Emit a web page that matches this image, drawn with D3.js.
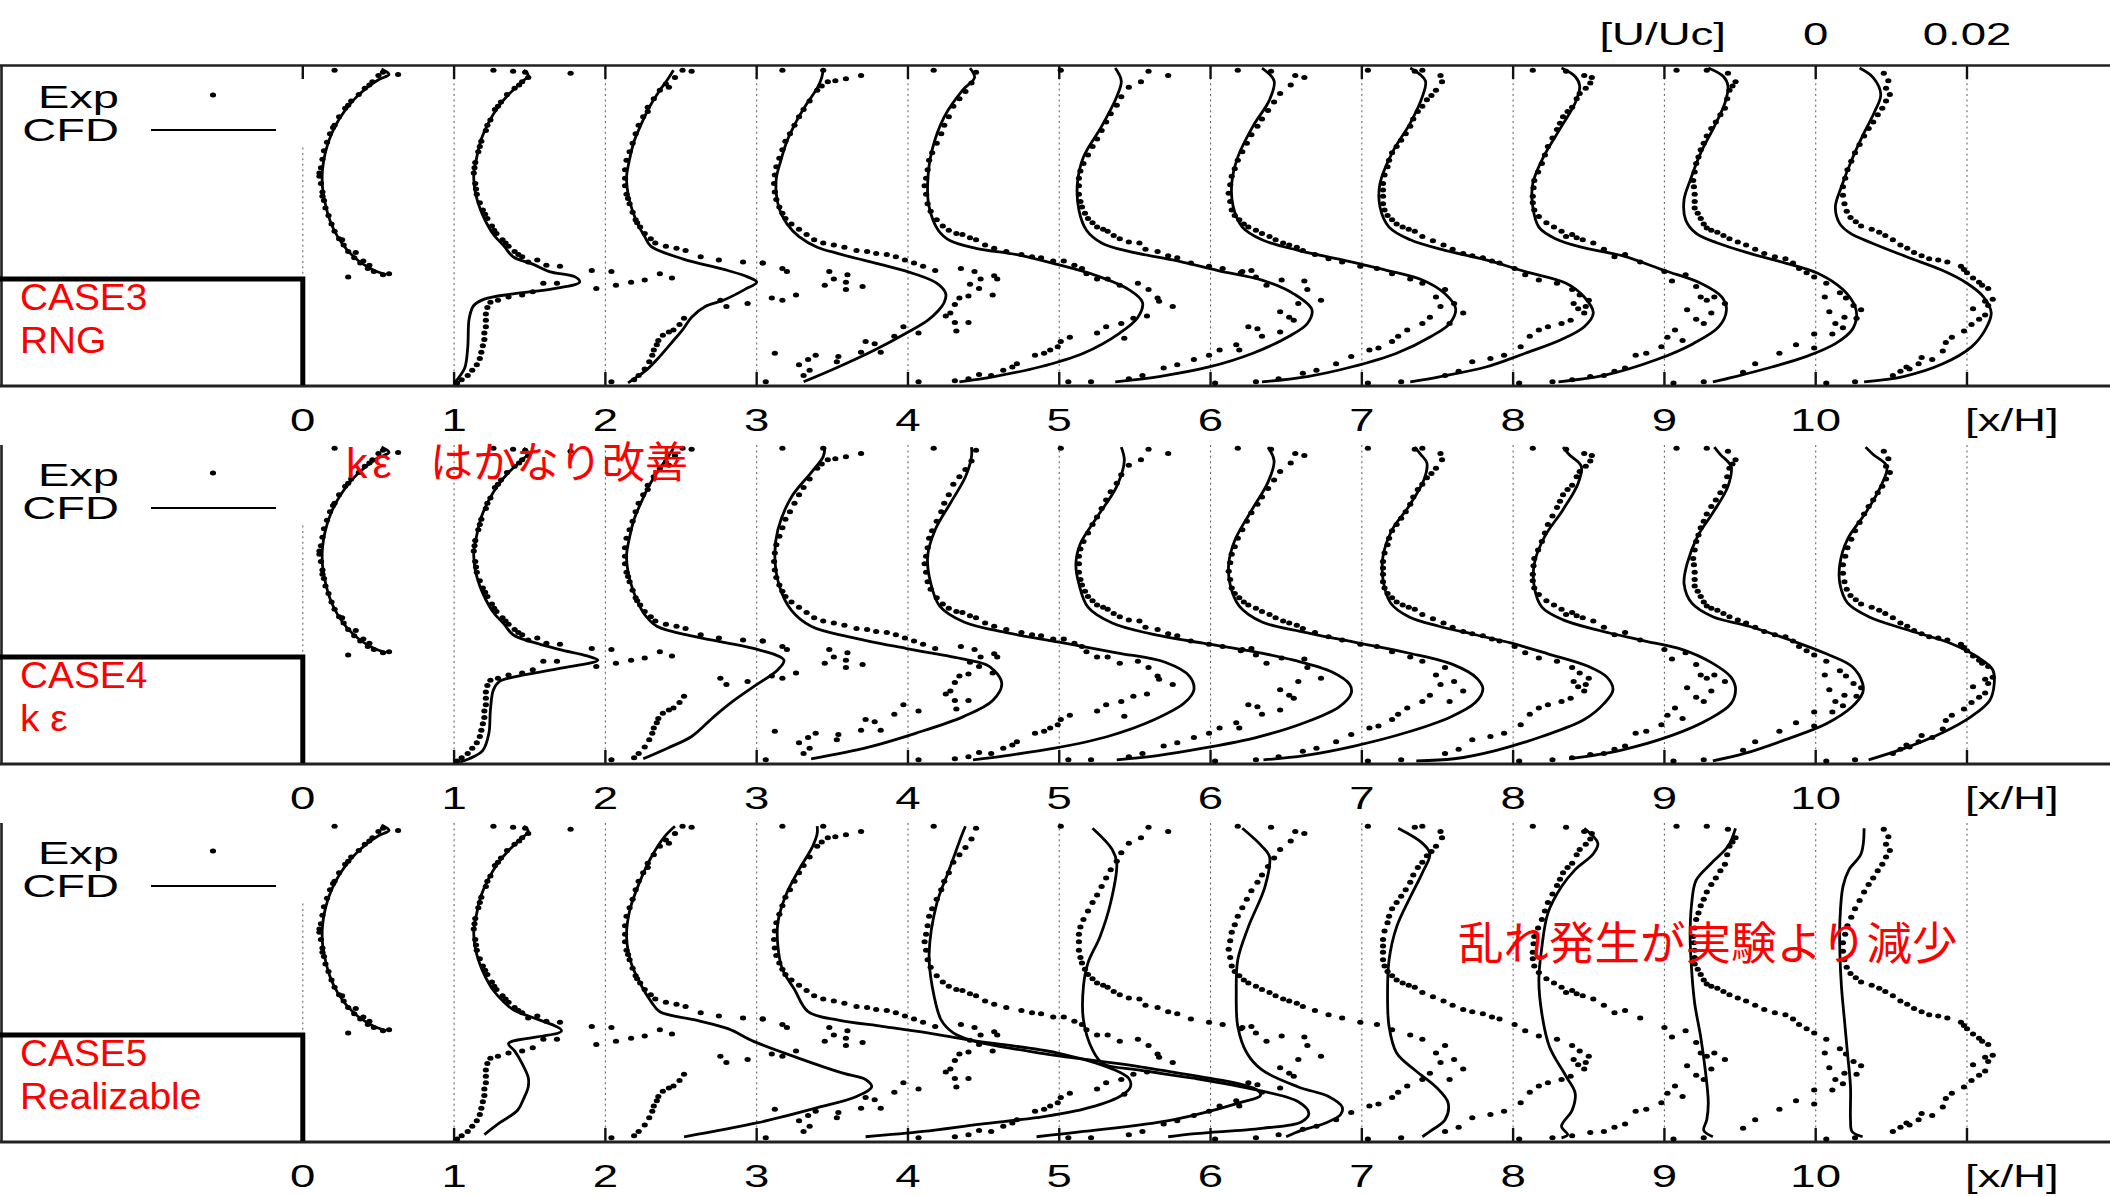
<!DOCTYPE html>
<html>
<head>
<meta charset="utf-8">
<script src="https://cdn.jsdelivr.net/npm/d3@7"></script>
<style>
  html, body { margin: 0; padding: 0; background: #fff; }
  svg { display: block; }
</style>
</head>
<body>
<svg id="chart" width="2110" height="1196"></svg>
<script>
// ---------------------------------------------------------------
// Velocity profiles U/Uc behind a block, measured (Exp) and
// computed (CFD) at stations x/H = 0 ... 10, three turbulence models.
// Each profile point: [U/Uc, z/H]. 0.02 of U/Uc spans one station.
// ---------------------------------------------------------------

const stations = [0, 1, 2, 3, 4, 5, 6, 7, 8, 9, 10];
const gridStations = [0, 1, 2, 3, 4, 5, 6, 7, 8, 9, 10, 11];
const xTickLabels = ["0", "1", "2", "3", "4", "5", "6", "7", "8", "9", "10"];
const scaleLabels = ["0", "0.02"];
const caseNames = ["CASE3", "CASE4", "CASE5"];
const modelNames = ["RNG", "k ε", "Realizable"];
const noteKE = ["kε", "はかなり改善"];
const noteRealizable = "乱れ発生が実験より減少";

// Measured profiles (same experiment shown in every case)
const expProfiles = [
  // x/H = 0
  [[.0042,2.97],[.0126,2.93],[.0106,2.95],[.0100,2.92],[.0092,2.86],[.0088,2.83],[.0082,2.80],[.0074,2.74],[.0064,2.68],[.0060,2.64],[.0056,2.61],[.0048,2.53],[.0042,2.45],[.0040,2.43],[.0036,2.37],[.0032,2.29],[.0028,2.21],[.0026,2.13],[.0024,2.05],[.0022,2.00],[.0022,1.97],[.0024,1.90],[.0026,1.82],[.0026,1.78],[.0028,1.74],[.0030,1.67],[.0034,1.60],[.0038,1.52],[.0042,1.45],[.0048,1.38],[.0052,1.37],[.0054,1.32],[.0060,1.26],[.0070,1.25],[.0068,1.20],[.0080,1.17],[.0076,1.15],[.0088,1.13],[.0086,1.10],[.0094,1.07],[.0106,1.04],[.0114,1.05],[.0060,1.02]],
  // x/H = 1
  [[.0052,2.97],[.0078,2.96],[.0094,2.95],[.0154,2.94],[.0098,2.90],[.0090,2.86],[.0086,2.83],[.0080,2.80],[.0070,2.74],[.0062,2.67],[.0058,2.63],[.0054,2.60],[.0048,2.50],[.0044,2.45],[.0042,2.40],[.0036,2.30],[.0034,2.25],[.0032,2.20],[.0028,2.10],[.0027,2.05],[.0026,2.00],[.0028,1.90],[.0029,1.85],[.0030,1.80],[.0034,1.72],[.0038,1.65],[.0041,1.61],[.0044,1.57],[.0050,1.50],[.0053,1.46],[.0056,1.43],[.0064,1.37],[.0068,1.34],[.0072,1.31],[.0080,1.26],[.0085,1.23],[.0090,1.21],[.0098,1.16],[.0110,1.18],[.0122,1.13],[.0140,1.12],[.0182,1.08],
   [.0188,.91],[.0136,.96],[.0118,.96],[.0104,.88],[.0090,.85],[.0072,.83],[.0058,.80],[.0048,.78],[.0044,.73],[.0042,.67],[.0042,.61],[.0042,.55],[.0040,.49],[.0040,.43],[.0038,.37],[.0036,.31],[.0034,.25],[.0030,.19],[.0024,.14],[.0018,.09],[.0010,.05],[.0004,.02]],
  // x/H = 2
  [[.0102,2.97],[.0114,2.96],[.0092,2.90],[.0084,2.81],[.0080,2.84],[.0072,2.78],[.0064,2.70],[.0056,2.62],[.0056,2.58],[.0050,2.53],[.0044,2.45],[.0040,2.37],[.0036,2.28],[.0032,2.20],[.0028,2.12],[.0026,2.03],[.0026,1.95],[.0026,1.88],[.0028,1.80],[.0030,1.76],[.0032,1.71],[.0036,1.63],[.0040,1.56],[.0042,1.53],[.0046,1.49],[.0052,1.43],[.0060,1.38],[.0066,1.34],[.0080,1.31],[.0094,1.29],[.0106,1.27],[.0126,1.21],[.0150,1.18],[.0182,1.16],[.0208,1.15],
   [.0008,1.07],[.0014,.94],[.0034,.97],[.0052,.99],[.0072,1.05],[.0088,1.01],[.0152,.80],[.0160,.74],[.0188,.77],
   [.0008,.03],[.0038,.05],[.0044,.09],[.0052,.15],[.0058,.22],[.0062,.28],[.0064,.33],[.0068,.38],[.0070,.42],[.0076,.47],[.0084,.50],[.0090,.52],[.0098,.57],[.0104,.63]],
  // x/H = 3
  [[.0034,2.97],[.0088,2.97],[.0094,2.86],[.0104,2.87],[.0118,2.89],[.0138,2.92],[.0086,2.82],[.0080,2.78],[.0070,2.68],[.0062,2.60],[.0056,2.53],[.0050,2.45],[.0044,2.37],[.0038,2.30],[.0034,2.22],[.0030,2.14],[.0026,2.06],[.0024,1.98],[.0023,1.90],[.0024,1.82],[.0026,1.75],[.0030,1.68],[.0034,1.62],[.0038,1.57],[.0046,1.52],[.0056,1.47],[.0066,1.42],[.0076,1.37],[.0088,1.34],[.0102,1.32],[.0116,1.30],[.0132,1.27],[.0146,1.26],[.0158,1.24],[.0172,1.23],[.0184,1.21],[.0196,1.18],[.0208,1.15],[.0220,1.12],[.0236,1.08],
   [.0008,1.15],[.0034,1.10],[.0040,1.07],[.0096,1.07],[.0102,1.00],[.0120,1.04],[.0118,.97],[.0090,.94],[.0118,.90],[.0140,.93],[.0020,.82],[.0034,.80],[.0052,.85],
   [.0270,1.10],[.0288,1.07],[.0282,.95],[.0294,.91],[.0296,1.00],[.0314,1.03],[.0318,1.00],[.0312,.85],[.0280,.84],[.0268,.82],[.0262,.76],[.0256,.68],[.0262,.59],[.0264,.51],[.0250,.65],[.0280,.59],
   [.0214,.49],[.0194,.55],[.0182,.46],[.0164,.31],[.0156,.39],[.0144,.41],[.0138,.31],[.0108,.27],[.0106,.22],[.0078,.28],[.0068,.24],[.0070,.14],[.0056,.19],[.0062,.09],[.0024,.30],[.0012,.03]],
  // x/H = 4
  [[.0034,2.97],[.0090,2.95],[.0084,2.85],[.0076,2.77],[.0068,2.70],[.0060,2.63],[.0054,2.53],[.0048,2.45],[.0044,2.37],[.0038,2.28],[.0032,2.19],[.0028,2.12],[.0026,2.03],[.0024,1.95],[.0022,1.88],[.0024,1.80],[.0026,1.71],[.0030,1.64],[.0038,1.56],[.0046,1.50],[.0054,1.46],[.0064,1.43],[.0072,1.42],[.0082,1.39],[.0090,1.37],[.0102,1.32],[.0114,1.29],[.0130,1.26],[.0150,1.23],[.0164,1.21],[.0176,1.20],[.0192,1.17],[.0206,1.17],[.0220,1.13],
   [.0230,1.10],[.0236,1.05],[.0250,1.00],[.0264,1.00],[.0280,.94],[.0304,.96],[.0318,.90],[.0330,.82],[.0350,.74],[.0332,.79],[.0316,.65],[.0298,.63],[.0282,.58],[.0262,.55],[.0250,.49],[.0286,.44],
   [.0014,.03],[.0062,.04],[.0080,.06],[.0094,.10],[.0110,.09],[.0126,.14],[.0138,.17],[.0144,.20],[.0168,.28],[.0180,.30],[.0188,.33],[.0198,.36],[.0202,.41],[.0214,.45]],
  // x/H = 5
  [[.0002,2.97],[.0118,2.96],[.0144,2.92],[.0108,2.86],[.0092,2.81],[.0082,2.72],[.0076,2.64],[.0068,2.56],[.0062,2.48],[.0056,2.40],[.0050,2.32],[.0044,2.25],[.0038,2.17],[.0032,2.09],[.0028,2.02],[.0026,1.95],[.0026,1.88],[.0026,1.80],[.0028,1.73],[.0030,1.68],[.0034,1.62],[.0038,1.57],[.0044,1.53],[.0050,1.49],[.0058,1.47],[.0064,1.45],[.0072,1.41],[.0080,1.38],[.0092,1.35],[.0106,1.34],[.0114,1.28],[.0130,1.26],[.0144,1.22],[.0156,1.20],[.0174,1.15],[.0198,1.12],[.0216,1.10],[.0240,1.06],[.0260,1.02],
   [.0242,1.07],[.0254,1.08],[.0274,.94],[.0294,.99],[.0324,.98],[.0328,.90],[.0346,.80],[.0316,.77],[.0292,.69],[.0304,.64],[.0310,.61],[.0268,.46],[.0292,.50],
   [.0012,.03],[.0042,.03],[.0092,.06],[.0110,.09],[.0138,.16],[.0156,.19],[.0178,.24],[.0198,.28],[.0212,.33],[.0250,.55],[.0262,.53],[.0234,.38],[.0238,.33]],
  // x/H = 6
  [[.0036,2.97],[.0080,2.96],[.0112,2.92],[.0124,2.90],[.0106,2.83],[.0092,2.75],[.0084,2.67],[.0076,2.59],[.0068,2.51],[.0062,2.44],[.0054,2.36],[.0048,2.28],[.0042,2.20],[.0036,2.12],[.0032,2.04],[.0028,1.97],[.0026,1.89],[.0024,1.81],[.0026,1.73],[.0028,1.65],[.0032,1.60],[.0038,1.56],[.0044,1.52],[.0050,1.49],[.0060,1.46],[.0068,1.43],[.0078,1.40],[.0086,1.37],[.0096,1.34],[.0104,1.32],[.0114,1.30],[.0122,1.27],[.0138,1.23],[.0156,1.19],[.0174,1.16],[.0198,1.12],[.0220,1.10],[.0240,1.05],[.0264,1.00],
   [.0290,.64],[.0304,.74],[.0316,.58],[.0334,.68],[.0298,.83],[.0322,.77],[.0280,.96],[.0310,.90],
   [.0006,.02],[.0060,.03],[.0090,.06],[.0122,.11],[.0140,.14],[.0166,.20],[.0186,.27],[.0210,.33],[.0222,.35],[.0240,.41],[.0248,.46],[.0260,.52],[.0280,.58]],
  // x/H = 7
  [[.0008,2.97],[.0070,2.96],[.0080,2.97],[.0104,2.92],[.0106,2.86],[.0098,2.78],[.0092,2.73],[.0086,2.69],[.0080,2.63],[.0074,2.58],[.0068,2.51],[.0064,2.44],[.0058,2.37],[.0052,2.31],[.0046,2.25],[.0040,2.19],[.0036,2.12],[.0034,2.06],[.0030,1.98],[.0028,1.90],[.0028,1.84],[.0028,1.78],[.0028,1.71],[.0030,1.65],[.0034,1.60],[.0040,1.56],[.0046,1.52],[.0054,1.49],[.0062,1.47],[.0070,1.45],[.0080,1.40],[.0094,1.36],[.0108,1.32],[.0120,1.28],[.0134,1.24],[.0146,1.22],[.0160,1.20],[.0172,1.17],[.0182,1.15],[.0202,1.10],[.0216,1.04],[.0234,.99],[.0258,.96],[.0278,.90],[.0288,.85],
   [.0280,.77],[.0294,.68],[.0286,.72],[.0296,.74],[.0300,.80],[.0276,.61],[.0264,.58],[.0246,.55],[.0234,.52],[.0222,.46],[.0210,.36],[.0188,.28],[.0170,.25],[.0146,.22],[.0128,.13],[.0110,.09],[.0052,.03],[.0008,.02]],
  // x/H = 8
  [[.0026,2.97],[.0070,2.96],[.0094,2.92],[.0104,2.90],[.0102,2.85],[.0096,2.80],[.0088,2.75],[.0084,2.70],[.0078,2.62],[.0072,2.58],[.0066,2.53],[.0062,2.47],[.0058,2.41],[.0052,2.33],[.0046,2.25],[.0042,2.17],[.0038,2.09],[.0033,2.01],[.0028,1.93],[.0027,1.86],[.0026,1.78],[.0026,1.72],[.0028,1.65],[.0034,1.59],[.0044,1.53],[.0054,1.49],[.0064,1.45],[.0078,1.42],[.0070,1.40],[.0084,1.39],[.0092,1.37],[.0106,1.34],[.0120,1.28],[.0134,1.21],[.0148,1.23],[.0168,1.16],
   [.0200,1.07],[.0210,.98],[.0228,1.04],[.0242,.93],[.0248,.83],[.0256,.80],[.0266,.83],[.0280,.77],[.0262,.68],[.0230,.71],[.0242,.62],[.0252,.58],[.0204,.45],[.0214,.52],[.0224,.42],
   [.0008,.02],[.0052,.03],[.0078,.05],[.0102,.08],[.0120,.09],[.0134,.13],[.0148,.16],[.0162,.28],[.0176,.30],[.0196,.36]],
  // x/H = 9
  [[.0016,2.97],[.0056,2.97],[.0084,2.94],[.0094,2.86],[.0090,2.82],[.0086,2.78],[.0083,2.70],[.0080,2.61],[.0074,2.55],[.0068,2.48],[.0062,2.42],[.0056,2.35],[.0052,2.28],[.0048,2.22],[.0045,2.15],[.0042,2.09],[.0040,2.01],[.0038,1.93],[.0039,1.87],[.0040,1.80],[.0040,1.73],[.0040,1.67],[.0044,1.62],[.0048,1.57],[.0052,1.52],[.0056,1.48],[.0062,1.46],[.0070,1.44],[.0078,1.41],[.0086,1.38],[.0097,1.35],[.0108,1.32],[.0120,1.28],[.0132,1.24],[.0146,1.21],[.0160,1.19],[.0170,1.15],[.0178,1.10],[.0188,1.06],[.0198,1.02],[.0214,.96],[.0232,.87],[.0240,.82],[.0250,.75],[.0260,.71],[.0254,.63],[.0236,.54],[.0222,.48],
   [.0212,.83],[.0218,.69],[.0226,.58],[.0238,.64],[.0198,.48],
   [.0198,.35],[.0174,.38],[.0152,.30],[.0120,.20],[.0104,.12],[.0052,.03],[.0012,.02]],
  // x/H = 10
  [[.0090,2.94],[.0096,2.87],[.0093,2.80],[.0098,2.74],[.0093,2.68],[.0088,2.61],[.0082,2.55],[.0076,2.48],[.0070,2.42],[.0064,2.35],[.0058,2.27],[.0052,2.19],[.0047,2.11],[.0042,2.03],[.0039,1.95],[.0036,1.87],[.0036,1.79],[.0038,1.71],[.0041,1.64],[.0046,1.58],[.0053,1.54],[.0060,1.50],[.0074,1.47],[.0084,1.44],[.0092,1.41],[.0102,1.37],[.0112,1.32],[.0121,1.29],[.0130,1.25],[.0140,1.22],[.0150,1.19],[.0162,1.18],[.0174,1.16],[.0192,1.12],[.0196,1.09],[.0200,1.06],[.0208,1.01],[.0216,.97],[.0220,.94],[.0228,.91],[.0234,.81],[.0228,.75],[.0224,.66],[.0206,.57],[.0196,.51],
   [.0208,.72],[.0216,.62],[.0224,.79],
   [.0180,.45],[.0172,.40],[.0168,.32],[.0140,.26],[.0154,.24],[.0136,.20],[.0120,.17],[.0124,.15],[.0112,.13],[.0102,.09],[.0052,.03],[.0014,.02]]
];

// Computed profiles, RNG k-ε (CASE3)
const cfdRNG = [
  [[.0104,2.98],[.0114,2.93],[.0100,2.88],[.0084,2.80],[.0066,2.68],[.0050,2.53],[.0038,2.37],[.0030,2.20],[.0026,2.03],[.0026,1.87],[.0030,1.70],[.0036,1.55],[.0046,1.40],[.0058,1.28],[.0074,1.17],[.0092,1.09],[.0110,1.04]],
  [[.0092,2.97],[.0098,2.92],[.0088,2.85],[.0072,2.74],[.0058,2.62],[.0046,2.48],[.0036,2.32],[.0030,2.15],[.0026,1.98],[.0028,1.82],[.0034,1.67],[.0042,1.54],[.0052,1.42],[.0066,1.31],[.0078,1.21],[.0104,1.14],[.0126,1.07],[.0160,1.02],[.0166,.97],[.0132,.91],[.0078,.86],[.0040,.81],[.0026,.75],[.0020,.63],[.0018,.35],[.0014,.16],[.0004,.05],[.0000,.02]],
  [[.0090,2.97],[.0082,2.88],[.0070,2.76],[.0058,2.62],[.0048,2.47],[.0038,2.30],[.0032,2.13],[.0028,1.96],[.0030,1.80],[.0036,1.64],[.0044,1.50],[.0052,1.40],[.0060,1.31],[.0102,1.19],[.0162,1.08],[.0188,1.02],[.0200,.97],[.0184,.90],[.0156,.80],[.0132,.74],[.0114,.64],[.0102,.52],[.0090,.42],[.0072,.27],[.0054,.14],[.0036,.05],[.0030,.02]],
  [[.0088,2.98],[.0086,2.90],[.0080,2.80],[.0066,2.65],[.0052,2.48],[.0040,2.30],[.0032,2.12],[.0026,1.95],[.0026,1.80],[.0030,1.66],[.0040,1.52],[.0056,1.40],[.0080,1.30],[.0108,1.24],[.0140,1.18],[.0168,1.13],[.0208,1.05],[.0238,.96],[.0250,.86],[.0248,.78],[.0240,.70],[.0226,.61],[.0198,.49],[.0156,.33],[.0108,.17],[.0062,.03]],
  [[.0082,2.99],[.0088,2.90],[.0072,2.78],[.0048,2.53],[.0032,2.22],[.0026,1.90],[.0028,1.68],[.0040,1.46],[.0056,1.36],[.0090,1.29],[.0144,1.23],[.0196,1.14],[.0250,1.03],[.0292,.90],[.0310,.78],[.0304,.64],[.0280,.49],[.0232,.30],[.0174,.17],[.0114,.08],[.0068,.03]],
  [[.0074,2.99],[.0082,2.87],[.0076,2.72],[.0056,2.44],[.0032,2.15],[.0024,1.90],[.0026,1.65],[.0036,1.46],[.0056,1.34],[.0092,1.26],[.0150,1.18],[.0210,1.08],[.0268,.99],[.0310,.86],[.0334,.71],[.0328,.58],[.0304,.46],[.0256,.30],[.0198,.17],[.0132,.08],[.0074,.03]],
  [[.0068,2.99],[.0084,2.87],[.0078,2.69],[.0056,2.44],[.0036,2.15],[.0028,1.90],[.0030,1.68],[.0042,1.49],[.0068,1.37],[.0116,1.27],[.0174,1.18],[.0234,1.08],[.0280,.99],[.0310,.86],[.0324,.72],[.0316,.58],[.0292,.46],[.0246,.30],[.0186,.17],[.0128,.08],[.0068,.03]],
  [[.0064,2.99],[.0084,2.87],[.0080,2.72],[.0064,2.47],[.0040,2.19],[.0024,1.90],[.0024,1.68],[.0036,1.49],[.0064,1.37],[.0110,1.27],[.0164,1.18],[.0216,1.07],[.0270,.96],[.0294,.83],[.0306,.68],[.0294,.55],[.0264,.43],[.0216,.30],[.0164,.17],[.0104,.08],[.0064,.03]],
  [[.0064,2.99],[.0082,2.91],[.0088,2.82],[.0082,2.66],[.0064,2.44],[.0040,2.15],[.0026,1.90],[.0026,1.68],[.0034,1.49],[.0056,1.38],[.0090,1.30],[.0144,1.22],[.0200,1.08],[.0248,.96],[.0276,.83],[.0282,.71],[.0272,.55],[.0238,.39],[.0190,.24],[.0120,.09],[.0060,.03]],
  [[.0058,2.99],[.0078,2.91],[.0084,2.82],[.0080,2.66],[.0066,2.44],[.0048,2.19],[.0034,1.93],[.0026,1.75],[.0028,1.56],[.0042,1.43],[.0070,1.34],[.0114,1.24],[.0160,1.15],[.0204,1.05],[.0236,.90],[.0252,.74],[.0254,.64],[.0248,.52],[.0226,.39],[.0188,.27],[.0142,.17],[.0094,.08],[.0064,.03]],
  [[.0058,2.99],[.0076,2.90],[.0086,2.74],[.0078,2.58],[.0064,2.38],[.0048,2.13],[.0034,1.87],[.0026,1.68],[.0032,1.52],[.0046,1.43],[.0074,1.34],[.0120,1.21],[.0168,1.08],[.0200,.96],[.0222,.83],[.0232,.68],[.0224,.52],[.0206,.36],[.0168,.20],[.0116,.08],[.0064,.03]]
];

// Computed profiles, standard k-ε (CASE4)
const cfdKE = [
  [[.0104,2.98],[.0114,2.93],[.0100,2.88],[.0084,2.80],[.0066,2.68],[.0050,2.53],[.0038,2.37],[.0030,2.20],[.0026,2.03],[.0026,1.87],[.0030,1.70],[.0036,1.55],[.0046,1.40],[.0058,1.28],[.0074,1.17],[.0092,1.09],[.0110,1.04]],
  [[.0092,2.97],[.0098,2.92],[.0088,2.85],[.0072,2.74],[.0058,2.62],[.0046,2.48],[.0036,2.32],[.0030,2.15],[.0026,1.98],[.0028,1.82],[.0034,1.67],[.0042,1.54],[.0052,1.42],[.0066,1.31],[.0078,1.21],[.0104,1.14],[.0140,1.07],[.0176,1.01],[.0190,.97],[.0138,.89],[.0078,.81],[.0060,.77],[.0052,.69],[.0048,.50],[.0046,.28],[.0038,.12],[.0020,.04],[.0008,.01]],
  [[.0090,2.97],[.0082,2.88],[.0070,2.76],[.0058,2.62],[.0048,2.47],[.0038,2.30],[.0032,2.13],[.0028,1.96],[.0030,1.80],[.0036,1.64],[.0044,1.50],[.0052,1.40],[.0068,1.29],[.0120,1.19],[.0202,1.07],[.0236,.97],[.0228,.88],[.0196,.72],[.0170,.59],[.0144,.44],[.0114,.25],[.0082,.14],[.0050,.04]],
  [[.0090,2.98],[.0088,2.89],[.0072,2.74],[.0046,2.51],[.0028,2.20],[.0024,1.95],[.0030,1.67],[.0046,1.44],[.0072,1.29],[.0122,1.19],[.0198,1.08],[.0274,.98],[.0308,.91],[.0324,.75],[.0312,.59],[.0274,.44],[.0210,.28],[.0148,.15],[.0072,.04]],
  [[.0084,2.98],[.0084,2.89],[.0076,2.70],[.0056,2.45],[.0036,2.20],[.0026,1.95],[.0030,1.70],[.0042,1.48],[.0074,1.33],[.0130,1.23],[.0200,1.14],[.0276,1.04],[.0340,.95],[.0372,.82],[.0378,.69],[.0366,.57],[.0326,.41],[.0264,.25],[.0194,.14],[.0130,.07],[.0086,.03]],
  [[.0082,2.98],[.0086,2.85],[.0076,2.61],[.0050,2.32],[.0028,2.07],[.0022,1.88],[.0026,1.69],[.0038,1.47],[.0070,1.32],[.0120,1.22],[.0190,1.13],[.0250,1.06],[.0310,.97],[.0360,.86],[.0384,.74],[.0386,.66],[.0370,.53],[.0324,.38],[.0260,.24],[.0190,.14],[.0130,.07],[.0076,.03]],
  [[.0076,2.98],[.0084,2.85],[.0076,2.65],[.0054,2.38],[.0032,2.10],[.0024,1.88],[.0026,1.68],[.0038,1.48],[.0068,1.33],[.0120,1.24],[.0190,1.14],[.0260,1.04],[.0320,.93],[.0352,.80],[.0360,.70],[.0350,.57],[.0316,.43],[.0260,.29],[.0190,.16],[.0124,.07],[.0070,.03]],
  [[.0070,2.98],[.0078,2.91],[.0086,2.83],[.0082,2.67],[.0062,2.42],[.0040,2.20],[.0028,1.95],[.0028,1.73],[.0038,1.51],[.0062,1.38],[.0102,1.29],[.0150,1.21],[.0198,1.13],[.0246,1.03],[.0300,.91],[.0324,.81],[.0332,.69],[.0320,.56],[.0294,.41],[.0238,.25],[.0178,.12],[.0122,.04],[.0072,.02]],
  [[.0066,2.98],[.0074,2.91],[.0090,2.80],[.0086,2.64],[.0066,2.39],[.0042,2.14],[.0028,1.88],[.0028,1.66],[.0038,1.47],[.0066,1.35],[.0114,1.25],[.0168,1.16],[.0224,1.07],[.0264,.94],[.0288,.81],[.0294,.70],[.0288,.56],[.0258,.41],[.0210,.26],[.0142,.12],[.0074,.04]],
  [[.0066,2.98],[.0074,2.91],[.0088,2.80],[.0084,2.61],[.0064,2.36],[.0044,2.14],[.0030,1.88],[.0026,1.69],[.0036,1.51],[.0064,1.38],[.0112,1.29],[.0166,1.16],[.0214,1.03],[.0248,.91],[.0262,.75],[.0262,.66],[.0248,.53],[.0214,.37],[.0160,.22],[.0106,.09],[.0064,.02]],
  [[.0066,2.98],[.0076,2.91],[.0094,2.80],[.0086,2.61],[.0066,2.36],[.0042,2.11],[.0032,1.88],[.0032,1.69],[.0042,1.51],[.0070,1.38],[.0124,1.25],[.0178,1.13],[.0214,1.00],[.0234,.88],[.0236,.75],[.0230,.59],[.0206,.44],[.0166,.28],[.0118,.14],[.0070,.03]]
];

// Computed profiles, Realizable k-ε (CASE5)
const cfdRealizable = [
  [[.0104,2.98],[.0114,2.93],[.0100,2.88],[.0084,2.80],[.0066,2.68],[.0050,2.53],[.0038,2.37],[.0030,2.20],[.0026,2.03],[.0026,1.87],[.0030,1.70],[.0036,1.55],[.0046,1.40],[.0058,1.28],[.0074,1.17],[.0092,1.09],[.0110,1.04]],
  [[.0092,2.97],[.0098,2.92],[.0088,2.85],[.0072,2.74],[.0058,2.62],[.0046,2.48],[.0036,2.32],[.0030,2.15],[.0026,1.98],[.0028,1.82],[.0034,1.67],[.0042,1.54],[.0052,1.42],[.0066,1.31],[.0080,1.23],[.0102,1.17],[.0142,1.04],[.0072,.92],[.0080,.85],[.0090,.73],[.0098,.60],[.0098,.51],[.0092,.40],[.0084,.29],[.0060,.17],[.0040,.06]],
  [[.0092,2.97],[.0078,2.87],[.0060,2.67],[.0044,2.42],[.0032,2.17],[.0028,1.93],[.0034,1.68],[.0048,1.46],[.0060,1.32],[.0072,1.22],[.0120,1.14],[.0162,1.06],[.0196,.94],[.0256,.78],[.0314,.64],[.0344,.58],[.0352,.51],[.0332,.42],[.0278,.31],[.0200,.17],[.0104,.04]],
  [[.0080,2.97],[.0080,2.90],[.0074,2.78],[.0056,2.56],[.0038,2.31],[.0028,2.06],[.0028,1.84],[.0034,1.62],[.0050,1.43],[.0068,1.22],[.0108,1.14],[.0168,1.08],[.0226,1.02],[.0284,.95],[.0398,.83],[.0470,.68],[.0492,.59],[.0494,.51],[.0480,.42],[.0432,.30],[.0370,.22],[.0296,.16],[.0220,.09],[.0144,.04]],
  [[.0076,2.97],[.0072,2.90],[.0054,2.55],[.0038,2.24],[.0028,1.77],[.0032,1.46],[.0044,1.14],[.0060,1.02],[.0084,.95],[.0174,.83],[.0316,.69],[.0462,.48],[.0466,.43],[.0438,.36],[.0350,.20],[.0232,.09],[.0170,.04]],
  [[.0044,2.95],[.0070,2.75],[.0076,2.62],[.0068,2.25],[.0054,1.93],[.0038,1.68],[.0032,1.46],[.0032,1.14],[.0044,.86],[.0058,.73],[.0104,.67],[.0180,.59],[.0262,.48],[.0316,.37],[.0330,.26],[.0320,.18],[.0268,.12],[.0180,.07],[.0144,.04]],
  [[.0042,2.95],[.0068,2.78],[.0078,2.68],[.0072,2.40],[.0050,2.02],[.0036,1.71],[.0034,1.39],[.0036,1.08],[.0048,.83],[.0068,.67],[.0116,.51],[.0156,.42],[.0174,.32],[.0172,.25],[.0152,.17],[.0120,.10],[.0100,.04]],
  [[.0048,2.95],[.0080,2.81],[.0090,2.71],[.0080,2.53],[.0064,2.30],[.0046,2.02],[.0036,1.71],[.0034,1.39],[.0036,1.08],[.0046,.83],[.0070,.67],[.0098,.51],[.0114,.36],[.0110,.20],[.0092,.10],[.0080,.04]],
  [[.0094,2.95],[.0112,2.81],[.0106,2.71],[.0082,2.56],[.0064,2.40],[.0046,2.15],[.0038,1.83],[.0034,1.52],[.0038,1.20],[.0048,.89],[.0070,.61],[.0082,.45],[.0078,.29],[.0064,.14],[.0072,.06],[.0064,.03]],
  [[.0094,2.95],[.0084,2.78],[.0062,2.62],[.0042,2.46],[.0036,2.24],[.0034,1.93],[.0036,1.61],[.0040,1.30],[.0048,.98],[.0054,.67],[.0058,.36],[.0056,.20],[.0052,.10],[.0064,.04]],
  [[.0064,2.95],[.0060,2.71],[.0044,2.56],[.0036,2.40],[.0032,2.08],[.0032,1.77],[.0034,1.46],[.0038,1.14],[.0042,.83],[.0046,.51],[.0046,.20],[.0048,.09],[.0062,.04]]
];

const cases = [cfdRNG, cfdKE, cfdRealizable];

// ---------------------------------------------------------------
// Layout
// ---------------------------------------------------------------
const svg = d3.select("#chart");
const panelBottoms = [385, 763, 1141];
const panelHeight = 318;
const legendFloor = 2.24;          // station-0 guide starts below the legend
const latin = "'Liberation Sans', Arial, Helvetica, sans-serif";
const cjk = "'Noto Sans CJK JP', 'Noto Sans CJK SC', sans-serif";
const stretch = 1.47;               // glyphs of the black labels are drawn wide

const xStation = d3.scaleLinear().domain([0, 11]).range([302.8, 1967]);
const uScale = s => d3.scaleLinear().domain([0, 0.02]).range([xStation(s), xStation(s + 1)]);

function wideText(parent, x, y, str, anchor, size) {
  return parent.append("text")
    .attr("transform", `translate(${x},${y}) scale(${stretch},1)`)
    .attr("text-anchor", anchor)
    .attr("font-family", latin)
    .attr("font-size", size)
    .attr("fill", "#000")
    .text(str);
}

// scale key at top right
wideText(svg, 1726, 45, "[U/Uc]", "end", 31);
wideText(svg, uScale(10)(0), 45, scaleLabels[0], "middle", 31);
wideText(svg, uScale(10)(0.02), 45, scaleLabels[1], "middle", 31);

// top frame line of first panel
svg.append("line").attr("x1", 0).attr("x2", 2110).attr("y1", 65.5).attr("y2", 65.5)
  .attr("stroke", "#222").attr("stroke-width", 2.6);

cases.forEach((cfd, i) => {
  const bottom = panelBottoms[i];
  const y = d3.scaleLinear().domain([0, 3]).range([bottom, bottom - panelHeight]);
  const top = y(3);
  const g = svg.append("g");

  // station guides
  gridStations.forEach(s => {
    const x = xStation(s);
    const z0 = s === 0 ? 1 : 0;
    const z1 = s === 0 ? legendFloor : 3;
    g.append("line").attr("x1", x).attr("x2", x).attr("y1", y(z1)).attr("y2", y(z0))
      .attr("stroke", "#6a6a6a").attr("stroke-width", 1.1).attr("stroke-dasharray", "2,3.4");
    if (s > 0) {
      g.append("line").attr("x1", x).attr("x2", x).attr("y1", bottom).attr("y2", bottom - 13)
        .attr("stroke", "#111").attr("stroke-width", 2.4);
    }
    if (i === 0) {
      g.append("line").attr("x1", x).attr("x2", x).attr("y1", top - 1).attr("y2", top + 12)
        .attr("stroke", "#111").attr("stroke-width", 2.4);
    }
  });

  // frame: left edge and floor
  g.append("line").attr("x1", 1.5).attr("x2", 1.5).attr("y1", i === 0 ? 65 : top).attr("y2", bottom)
    .attr("stroke", "#222").attr("stroke-width", 2.6);
  g.append("line").attr("x1", 0).attr("x2", 2110).attr("y1", bottom + 1).attr("y2", bottom + 1)
    .attr("stroke", "#222").attr("stroke-width", 2.8);

  // block
  g.append("path")
    .attr("d", `M0,${y(1)}H${xStation(0)}V${bottom}`)
    .attr("fill", "none").attr("stroke", "#000").attr("stroke-width", 5);

  // profiles
  stations.forEach(s => {
    const us = uScale(s);
    const line = d3.line()
      .x(d => us(d[0])).y(d => y(d[1]))
      .curve(d3.curveCatmullRom.alpha(0.5));
    g.append("path").datum(cfd[s]).attr("d", line)
      .attr("fill", "none").attr("stroke", "#000").attr("stroke-width", 2.8)
      .attr("stroke-linejoin", "round");
    g.selectAll(null).data(expProfiles[s]).join("ellipse")
      .attr("cx", d => us(d[0])).attr("cy", d => y(d[1]))
      .attr("rx", 3.1).attr("ry", 2.5).attr("fill", "#000");
  });

  // legend
  wideText(g, 119, top + 41, "Exp", "end", 32);
  wideText(g, 119, top + 74, "CFD", "end", 32);
  g.append("ellipse").attr("cx", 213).attr("cy", top + 28).attr("rx", 3.1).attr("ry", 2.5).attr("fill", "#000");
  g.append("line").attr("x1", 151).attr("x2", 276).attr("y1", top + 63).attr("y2", top + 63)
    .attr("stroke", "#000").attr("stroke-width", 2.2);

  // case labels
  [caseNames[i], modelNames[i]].forEach((t, k) => {
    g.append("text")
      .attr("transform", `translate(20,${bottom - 75 + k * 43}) scale(1.05,1)`)
      .attr("font-family", latin).attr("font-size", 37).attr("fill", "#ff0000")
      .text(t);
  });

  // x/H axis labels
  xTickLabels.forEach((t, k) => wideText(g, xStation(k), bottom + 46, t, "middle", 31));
  wideText(g, 1965, bottom + 46, "[x/H]", "start", 31);
});

// remarks (the first one sits just under the x/H labels of the top panel)
const remark = svg.append("text").attr("y", 478)
  .attr("font-family", "'Liberation Sans', 'Noto Sans CJK JP', sans-serif")
  .attr("font-size", 43).attr("fill", "#ff0000");
remark.append("tspan").attr("x", 346).attr("letter-spacing", 5).text(noteKE[0]);
remark.append("tspan").attr("x", 430).text(noteKE[1]);
svg.append("text").attr("x", 1458).attr("y", 960)
  .attr("font-family", cjk).attr("font-size", 45.5).attr("fill", "#ff0000").text(noteRealizable);
</script>
</body>
</html>
